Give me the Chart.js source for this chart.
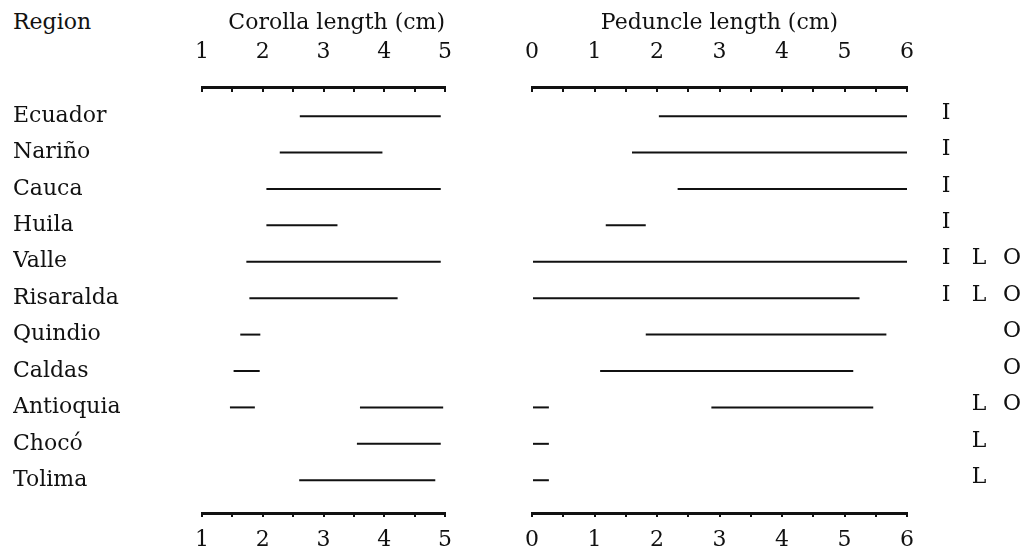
<!DOCTYPE html>
<html>
<head>
<meta charset="utf-8">
<title>Corolla and peduncle length by region</title>
<script src="https://cdn.jsdelivr.net/npm/chart.js@4.4.0/dist/chart.umd.min.js"></script>
<style>
  html, body { margin: 0; padding: 0; background: #fff; }
  #wrap { position: relative; width: 1028px; height: 554px; overflow: hidden; }
  #corolla { position: absolute; left: 0; top: 0; }
  #peduncle { position: absolute; left: 470px; top: 0; }
  #region-head { position: absolute; left: 13px; top: 9px; font: 22px 'DejaVu Serif', serif; color: #111; }
</style>
</head>
<body>
<div id="wrap">
  <div id="region-head">Region</div>
  <canvas id="corolla" width="470" height="554"></canvas>
  <canvas id="peduncle" width="558" height="554"></canvas>
</div>
<script>
// Range chart: corolla and peduncle length per region, with I / L / O marks

const FONT = "'DejaVu Serif', 'Liberation Serif', serif";
const INK = '#111';

const regions = ['Ecuador', 'Nariño', 'Cauca', 'Huila', 'Valle', 'Risaralda',
  'Quindio', 'Caldas', 'Antioquia', 'Chocó', 'Tolima'];

// corolla length range (cm)
const corollaLow  = [2.61, 2.28, 2.06, 2.06, 1.73, 1.78, 1.63, 1.52, 1.46, 3.55, 2.60];
const corollaHigh = [4.93, 3.97, 4.93, 3.23, 4.93, 4.22, 1.96, 1.95, 1.87, 4.93, 4.84];
// Antioquia has a second, separate corolla range
const corollaExtraRegion = 'Antioquia';
const corollaExtra = [3.60, 4.97];

// peduncle length range (cm)
const peduncleLow  = [2.03, 1.60, 2.33, 1.18, 0.00, 0.00, 1.82, 1.09, 0.00, 0.00, 0.00];
const peduncleHigh = [6.00, 6.00, 6.00, 1.82, 6.00, 5.24, 5.67, 5.14, 0.27, 0.27, 0.27];
const peduncleExtraRegion = 'Antioquia';
const peduncleExtra = [2.87, 5.46];

const corollaTicks = [1, 2, 3, 4, 5];
const peduncleTicks = [0, 1, 2, 3, 4, 5, 6];

const letterCols = ['I', 'L', 'O'];
const regionLetters = ['I', 'I', 'I', 'I', 'ILO', 'ILO', 'O', 'O', 'LO', 'L', 'L'];

Chart.defaults.font.family = FONT;
Chart.defaults.font.size = 22;
Chart.defaults.color = INK;

// ── Helpers ────────────────────────────────────────────────

// top axis ticks hang below the rule (negative length), bottom ones below too
function xAxis(position, ticks, title, titleAlign) {
  const top = position === 'top';
  return {
    type: 'linear',
    axis: 'x',
    position,
    min: ticks[0],
    max: ticks[ticks.length - 1],
    afterFit: s => {
      s.height = top ? 87 : 41;
      // layout padding alone decides the plot edges
      s.paddingLeft = 0;
      s.paddingRight = 0;
    },
    border: { display: true, color: INK, width: 3 },
    grid: { drawOnChartArea: false, color: INK, lineWidth: 2, tickLength: top ? -5 : 4 },
    ticks: {
      stepSize: 0.5,
      autoSkip: false,
      maxRotation: 0,
      padding: top ? 27 : 10,
      callback: v => ticks.includes(v) ? String(v) : '',
    },
    title: {
      display: !!title,
      text: title,
      align: titleAlign || 'center',
      padding: { top: 10, bottom: 0 },
    },
  };
}

function rangeChart(id, cfg) {
  const main = regions.map((r, i) => ({ x: [cfg.low[i], cfg.high[i]], y: i }));
  const extra = [{ x: cfg.extra, y: regions.indexOf(cfg.extraRegion) }];
  const barStyle = {
    backgroundColor: INK,
    borderWidth: 0,
    grouped: false,
    maxBarThickness: 2,
    xAxisID: 'x',
    yAxisID: 'y',
  };
  return new Chart(document.getElementById(id), {
    type: 'bar',
    data: {
      datasets: [
        { label: 'range', data: main, ...barStyle },
        { label: 'second range', data: extra, ...barStyle },
      ],
    },
    options: {
      indexAxis: 'y',
      responsive: false,
      animation: false,
      layout: { padding: { left: cfg.padLeft, right: cfg.padRight, top: 0, bottom: 0 } },
      plugins: { legend: { display: false }, tooltip: { enabled: false } },
      scales: {
        x: xAxis('top', cfg.ticks, cfg.title, cfg.titleAlign),
        xb: xAxis('bottom', cfg.ticks, null),
        y: {
          type: 'linear',
          reverse: true,
          offset: false,
          min: -0.8,
          max: 10.9,
          display: cfg.showRegions,
          afterBuildTicks: s => { s.ticks = regions.map((_, i) => ({ value: i })); },
          afterFit: s => { if (cfg.showRegions) s.width = 189; },
          grid: { display: false, drawTicks: false },
          border: { display: false },
          ticks: {
            autoSkip: false,
            crossAlign: 'far',
            padding: 0,
            callback: v => regions[v],
          },
        },
      },
    },
    plugins: cfg.plugins || [],
  });
}

// occurrence letters to the right of the peduncle panel
const letterPlugin = {
  id: 'letters',
  afterDraw(chart) {
    const { ctx, chartArea, scales: { y } } = chart;
    ctx.save();
    ctx.font = `22px ${FONT}`;
    ctx.fillStyle = INK;
    ctx.textAlign = 'center';
    ctx.textBaseline = 'middle';
    regionLetters.forEach((s, i) => {
      letterCols.forEach((c, k) => {
        if (s.includes(c)) {
          ctx.fillText(c, chartArea.right + 39 + k * 33, y.getPixelForValue(i) - 3);
        }
      });
    });
    ctx.restore();
  },
};

// ── Init ──────────────────────────────────────────────────

rangeChart('corolla', {
  low: corollaLow, high: corollaHigh,
  extra: corollaExtra, extraRegion: corollaExtraRegion,
  ticks: corollaTicks, title: 'Corolla length (cm)', titleAlign: 'end',
  padLeft: 13, padRight: 25, showRegions: true,
});

rangeChart('peduncle', {
  low: peduncleLow, high: peduncleHigh,
  extra: peduncleExtra, extraRegion: peduncleExtraRegion,
  ticks: peduncleTicks, title: 'Peduncle length (cm)',
  padLeft: 62, padRight: 121, showRegions: false,
  plugins: [letterPlugin],
});
</script>
</body>
</html>
